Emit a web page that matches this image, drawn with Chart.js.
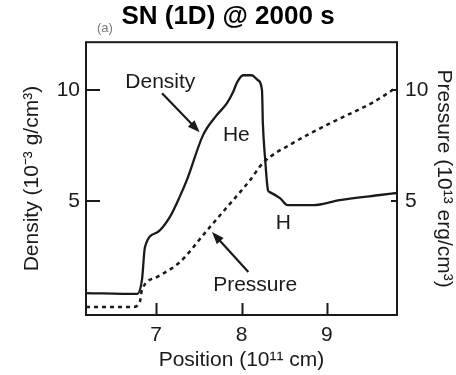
<!DOCTYPE html>
<html>
<head>
<meta charset="utf-8">
<script src="https://cdn.jsdelivr.net/npm/chart.js@4.4.0/dist/chart.umd.min.js"></script>
<style>
    body { margin: 0; background: #fff; }
    #wrap { width: 456px; height: 375px; }
</style>
</head>
<body>
<div id="wrap"><canvas id="chart"></canvas></div>
<script>
// position in 10^11 cm
const densityX = [6.18, 6.78, 6.835, 6.87, 7.02, 7.16, 7.28, 7.36, 7.55, 7.71, 7.83, 7.9, 7.95, 8.02, 8.12, 8.19, 8.24, 8.25, 8.275, 8.31, 8.33, 8.45, 8.54, 8.84, 9.15, 9.62, 9.82]
// density in 10^-3 g/cm^3
const densityY = [0.84, 0.8, 1.43, 2.91, 3.59, 4.26, 5.21, 5.93, 7.96, 8.86, 9.4, 9.89, 10.35, 10.66, 10.66, 10.44, 9.98, 8.5, 6.97, 5.48, 5.39, 5.12, 4.8, 4.8, 5.03, 5.26, 5.35]

const pressureX = [6.18, 6.73, 6.81, 6.835, 7.01, 7.28, 7.6, 7.83, 8.1, 8.25, 8.6, 9.04, 9.54, 9.82]
// pressure in 10^13 erg/cm^3
const pressureY = [0.21, 0.21, 0.44, 0.98, 1.56, 2.24, 3.68, 4.71, 5.93, 6.7, 7.6, 8.5, 9.44, 10.12]

const xTicks = [7, 8, 9]
const yTicks = [5, 10]

// labels written inside the plot, placed in data units
const notes = [
    { text: 'Density', x: 7.05, y: 10.35 },
    { text: 'He', x: 7.94, y: 7.96 },
    { text: 'H', x: 8.49, y: 3.99 },
    { text: 'Pressure', x: 8.16, y: 1.2 }
]
const arrows = [
    { from: [7.07, 9.85], to: [7.51, 8.09] },
    { from: [8.08, 1.79], to: [7.655, 3.59] }
]

const ink = '#1a1a1a'
const fontFamily = '"Liberation Sans", Arial, sans-serif'
const textSize = 21

const pairs = (xs, ys) => xs.map((x, i) => ({ x: x, y: ys[i] }))
const setTicks = list => scale => { scale.ticks = list.map(v => ({ value: v })) }

const framePlugin = {
    id: 'frame',
    afterDatasetsDraw(chart) {
        const ctx = chart.ctx
        const { left, right, top, bottom } = chart.chartArea
        const x = chart.scales.x
        const y = chart.scales.y
        const y2 = chart.scales.y2

        ctx.save()
        ctx.strokeStyle = ink
        ctx.lineWidth = 2
        ctx.strokeRect(left, top, right - left, bottom - top)

        ctx.beginPath()
        xTicks.forEach(v => {
            const px = Math.round(x.getPixelForValue(v)) + 0.5
            ctx.moveTo(px, bottom)
            ctx.lineTo(px, bottom - 12)
        })
        yTicks.forEach(v => {
            const py = Math.round(y.getPixelForValue(v))
            ctx.moveTo(left, py)
            ctx.lineTo(left + 14, py)
        })
        yTicks.forEach(v => {
            const py = Math.round(y2.getPixelForValue(v))
            ctx.moveTo(right, py)
            ctx.lineTo(right - 6, py)
        })
        ctx.stroke()

        // notes and arrows
        ctx.fillStyle = ink
        ctx.font = textSize + 'px ' + fontFamily
        ctx.textAlign = 'center'
        ctx.textBaseline = 'middle'
        notes.forEach(n => {
            ctx.fillText(n.text, x.getPixelForValue(n.x), y.getPixelForValue(n.y))
        })

        arrows.forEach(a => {
            const x0 = x.getPixelForValue(a.from[0]), y0 = y.getPixelForValue(a.from[1])
            const x1 = x.getPixelForValue(a.to[0]), y1 = y.getPixelForValue(a.to[1])
            const ang = Math.atan2(y1 - y0, x1 - x0)
            const head = 13
            ctx.beginPath()
            ctx.moveTo(x0, y0)
            ctx.lineTo(x1 - head * 0.8 * Math.cos(ang), y1 - head * 0.8 * Math.sin(ang))
            ctx.lineWidth = 2.2
            ctx.stroke()
            ctx.beginPath()
            ctx.moveTo(x1, y1)
            ctx.lineTo(x1 - head * Math.cos(ang - 0.36), y1 - head * Math.sin(ang - 0.36))
            ctx.lineTo(x1 - head * Math.cos(ang + 0.36), y1 - head * Math.sin(ang + 0.36))
            ctx.closePath()
            ctx.fill()
        })

        ctx.fillStyle = '#777'
        ctx.font = '13px ' + fontFamily
        ctx.textAlign = 'left'
        ctx.fillText('(a)', left + 11, top - 14)
        ctx.restore()
    }
}

new Chart(document.getElementById('chart').getContext('2d'), {
    type: 'line',
    data: {
        datasets: [
            {
                label: 'Density',
                data: pairs(densityX, densityY),
                yAxisID: 'y',
                borderColor: ink,
                borderWidth: 2.3,
                pointRadius: 0,
                cubicInterpolationMode: 'monotone',
                fill: false
            },
            {
                label: 'Pressure',
                data: pairs(pressureX, pressureY),
                yAxisID: 'y2',
                borderColor: ink,
                borderWidth: 2.5,
                borderDash: [4, 4],
                pointRadius: 0,
                cubicInterpolationMode: 'monotone',
                fill: false
            }
        ]
    },
    options: {
        responsive: true,
        maintainAspectRatio: false,
        animation: false,
        layout: { padding: 0 },
        plugins: {
            legend: { display: false },
            tooltip: { enabled: false },
            title: {
                display: true,
                text: 'SN (1D) @ 2000 s',
                color: '#000',
                font: { family: fontFamily, size: 26, weight: 'bold', lineHeight: 1.2 },
                padding: { top: 1, bottom: 10 }
            }
        },
        scales: {
            x: {
                type: 'linear',
                position: 'bottom',
                min: 6.18,
                max: 9.82,
                afterBuildTicks: setTicks(xTicks),
                afterFit: scale => { scale.height = 60 },
                grid: { display: false, drawTicks: false },
                border: { display: false },
                ticks: { color: ink, padding: 8, font: { family: fontFamily, size: textSize } },
                title: {
                    display: true,
                    text: 'Position (10¹¹ cm)',
                    color: ink,
                    font: { family: fontFamily, size: textSize },
                    padding: { top: 0, bottom: 2 }
                }
            },
            y: {
                type: 'linear',
                position: 'left',
                min: -0.15,
                max: 12.15,
                afterBuildTicks: setTicks(yTicks),
                afterFit: scale => { scale.width = 86 },
                grid: { display: false, drawTicks: false },
                border: { display: false },
                ticks: { color: ink, padding: 6, font: { family: fontFamily, size: textSize } },
                title: {
                    display: true,
                    text: 'Density (10⁻³ g/cm³)',
                    color: ink,
                    font: { family: fontFamily, size: textSize },
                    padding: { top: 20, bottom: 0 }
                }
            },
            y2: {
                type: 'linear',
                position: 'right',
                min: -0.15,
                max: 12.15,
                afterBuildTicks: setTicks(yTicks),
                afterFit: scale => { scale.width = 59 },
                grid: { display: false, drawTicks: false },
                border: { display: false },
                ticks: { color: ink, padding: 8, font: { family: fontFamily, size: textSize } },
                title: {
                    display: true,
                    text: 'Pressure (10¹³ erg/cm³)',
                    color: ink,
                    font: { family: fontFamily, size: textSize },
                    padding: { top: 0, bottom: 0 }
                }
            }
        }
    },
    plugins: [framePlugin]
})
</script>
</body>
</html>
